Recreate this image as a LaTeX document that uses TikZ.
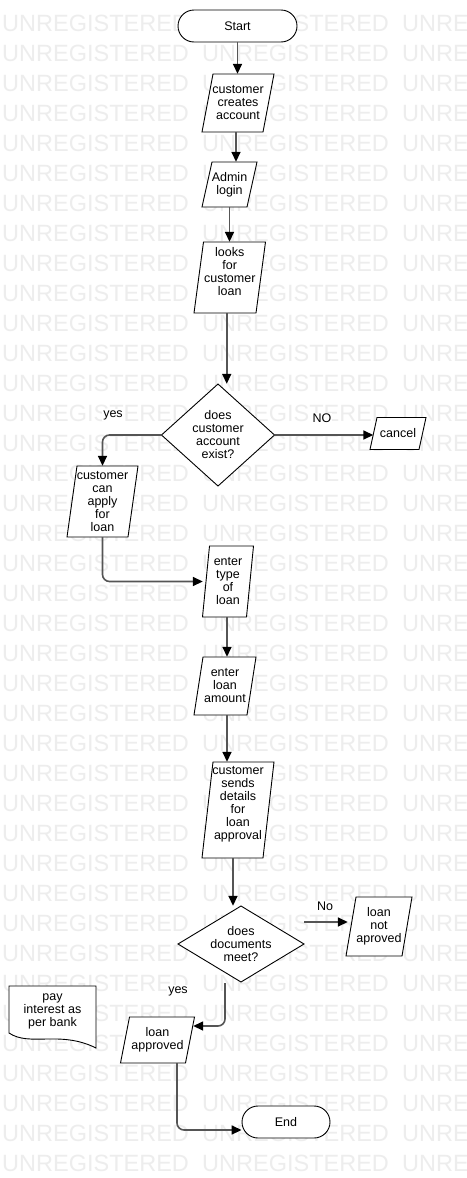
\documentclass[tikz,border=0pt]{standalone}
\usepackage{fontspec}
\setmainfont{Liberation Sans}
\usetikzlibrary{arrows.meta,calc}
\definecolor{wmgray}{HTML}{EDEDED}
\definecolor{linegray}{HTML}{555555}
\tikzset{
  box/.style={rectangle, draw=none, inner sep=0pt, align=center,
    font=\fontsize{12.5}{13}\selectfont},
  outline/.style={draw=black, line width=0.9pt, fill=white, line join=miter},
  terminal/.style={box, draw=black, line width=0.9pt, fill=white,
    rounded corners=16pt, minimum height=32},
  flow/.style={draw=linegray, line width=1.6pt, rounded corners=7pt,
    -{Triangle[length=10pt,width=9pt,color=black]}},
  lbl/.style={font=\fontsize{12.5}{13}\selectfont, inner sep=1pt, fill=white},
  wm/.style={font=\fontsize{23.5}{24}\selectfont, text=wmgray, inner sep=0pt,
    anchor=base west},
}
% slanted input/output box: name, cx, cy, edge width, height, slant, text offset, text
\newcommand\ioshape[8]{%
  \path[outline] (#2-#4/2+#6/2,#3-#5/2) -- (#2+#4/2+#6/2,#3-#5/2)
    -- (#2+#4/2-#6/2,#3+#5/2) -- (#2-#4/2-#6/2,#3+#5/2) -- cycle;
  \node[box, minimum width=#4, minimum height=#5] (#1) at (#2,#3) {};
  \node[box] (#1t) at (#2,#3+#7) {#8};
}
% decision diamond: name, cx, cy, width, height, text
\newcommand\decision[6]{%
  \path[outline] (#2,#3-#5/2) -- (#2+#4/2,#3) -- (#2,#3+#5/2)
    -- (#2-#4/2,#3) -- cycle;
  \node[box, minimum width=#4, minimum height=#5] (#1) at (#2,#3) {#6};
}
\begin{document}
\begin{tikzpicture}[x=1pt,y=-1pt]
\useasboundingbox (0,0) rectangle (466,1178);
\fill[white] (0,0) rectangle (466,1178);

% background watermark
\begin{scope}
  \clip (0,0) rectangle (466,1178);
  \foreach \k in {0,...,38} {
    \foreach \xx in {2,202,402} {
      \node[wm] (wm-\k-\xx) at (\xx,31.5+30*\k) {UNREGISTERED};
    }
  }
\end{scope}

% shapes
\node[terminal, minimum width=119] (start) at (237.5,26) {Start};
\ioshape{create}{238}{103}{61}{58}{11}{0}{customer\\creates\\account}
\ioshape{admin}{229.5}{184.5}{45}{45}{10}{0}{Admin\\login}
\ioshape{looks}{229.75}{277.5}{62}{71}{9.5}{-6}{looks\\for\\customer\\loan}
\decision{d1}{218}{435}{113}{102}{does\\customer\\account\\exist?}
\ioshape{cancel}{398}{433.5}{49}{32}{7}{0}{cancel}
\ioshape{apply}{102.5}{501.5}{61}{71}{10}{0}{customer\\can\\apply\\for\\loan}
\ioshape{type}{228}{581.5}{44}{71}{7}{0}{enter\\type\\of\\loan}
\ioshape{amount}{225}{686}{53}{58}{9}{0}{enter\\loan\\amount}
\ioshape{sends}{238}{810}{61}{96}{11}{-6}{customer\\sends\\details\\for\\loan\\approval}
\decision{d2}{241}{944}{126}{76}{does\\documents\\meet?}
\ioshape{notapp}{379}{926.5}{56}{59}{10}{0}{loan\\not\\aproved}
\ioshape{approved}{157.5}{1040}{65}{46}{9}{0}{loan\\approved}
\node[terminal, minimum width=88] (end) at (286,1122) {End};

% document shape
\path[outline] (9,986) -- (96,986) -- (96,1048)
  .. controls (60,1030) and (30,1047) .. (9,1033) -- cycle;
\node[box] (pay) at (52.5,1011) {pay\\interest as\\per bank};

% connectors
\draw[flow] (start.south) -- (start.south |- create.north);
\draw[flow] ([xshift=-2]create.south) -- ([xshift=-2]create.south |- admin.north);
\draw[flow] (admin.south) -- (admin.south |- looks.north);
\draw[flow] ([xshift=-3]looks.south) -- ([xshift=-3]looks.south |- d1.north);
\draw[flow] (d1.east) -- (d1.east -| cancel.west);
\node[lbl] (noLbl) at (322,418) {NO};
\draw[flow] (d1.west) -| (apply.north);
\node[lbl] (yesLbl) at (113,415) {yes};
\draw[flow] (apply.south) |- ([xshift=-3]type.west);
\draw[flow] ([xshift=-1]type.south) -- ([xshift=-1]type.south |- amount.north);
\draw[flow] ([xshift=2]amount.south) -- ([xshift=2]amount.south |- sends.north);
\draw[flow] ([xshift=-5]sends.south) -- ([xshift=-5]sends.south |- d2.north);
\coordinate (noFrom) at (304,922);
\draw[flow] (noFrom) -- ([xshift=-3]noFrom -| notapp.west);
\node[lbl] (noLbl2) at (325,906) {No};
\coordinate (yesFrom) at (225,983);
\draw[flow] (yesFrom) |- ([xshift=3,yshift=14]approved.east);
\node[lbl] (yesLbl2) at (178,991) {yes};
\draw[flow] ([xshift=19.5]approved.south) |- ([yshift=-8]end.west);
\end{tikzpicture}
\end{document}
